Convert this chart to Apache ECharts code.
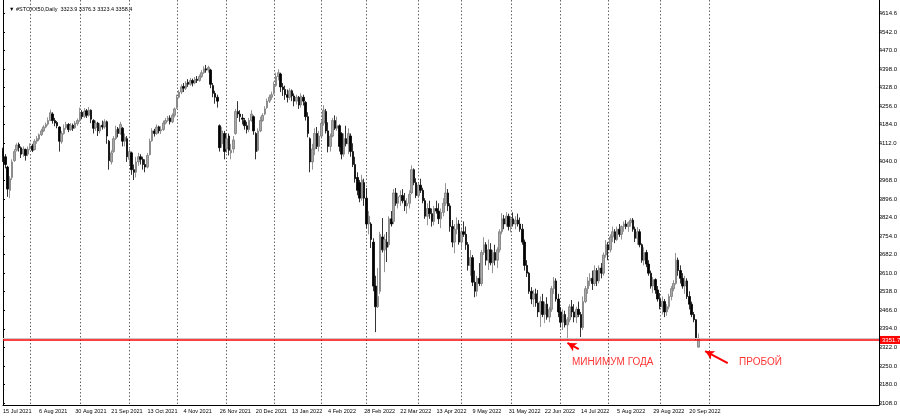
<!DOCTYPE html>
<html>
<head>
<meta charset="utf-8">
<title>#STOXX50 Daily</title>
<script src="https://cdn.jsdelivr.net/npm/echarts@6/dist/echarts.min.js"></script>
<style>
  html, body { margin: 0; background: #fff; }
  #chart { width: 900px; height: 418px; }
</style>
</head>
<body>
<div id="chart"></div>
<script>
const firstDay = '2021-07-15';
const closedDays = ['2021-12-24', '2021-12-31', '2022-04-15', '2022-04-18'];
const slotCount = 389; // bars + empty space on the right
const monthNames = ['Jan', 'Feb', 'Mar', 'Apr', 'May', 'Jun', 'Jul', 'Aug', 'Sep', 'Oct', 'Nov', 'Dec'];
const priceTicks = ['3108.0', '3180.0', '3250.0', '3322.0', '3394.0', '3466.0', '3538.0', '3610.0',
  '3682.0', '3754.0', '3824.0', '3896.0', '3968.0', '4040.0', '4112.0', '4184.0', '4256.0',
  '4328.0', '4398.0', '4470.0', '4542.0', '4614.6'];
const header = '▼ #STOXX50,Daily  3323.9 3376.3 3323.4 3358.4';
const yearLow = 3351.7;
const bidPrice = 3358.4;
const notes = [[252, 3266, 'МИНИМУМ ГОДА'], [326, 3266, 'ПРОБОЙ']];
const arrows = [[[255, 3316], [250, 3340]], [[321, 3262], [311, 3309]]];

// open, high, low, close
const bars = [
  [4085,4095,4040,4060],[4060,4070,4015,4030],[4020,4025,3905,3935],[3930,3985,3900,3975],
  [3980,4050,3970,4040],[4045,4090,4040,4080],[4085,4112,4080,4105],[4108,4115,4080,4095],
  [4095,4100,4055,4070],[4072,4100,4060,4090],[4088,4092,4045,4065],[4070,4100,4062,4090],
  [4092,4112,4085,4100],[4102,4110,4078,4085],[4088,4128,4085,4120],[4120,4140,4110,4130],
  [4128,4150,4120,4145],[4145,4168,4140,4160],[4160,4182,4155,4175],[4175,4192,4170,4185],
  [4186,4212,4180,4200],[4200,4242,4198,4230],[4225,4232,4188,4200],[4200,4210,4178,4190],
  [4192,4198,4170,4180],[4175,4178,4080,4120],[4118,4160,4110,4150],[4150,4185,4145,4170],
  [4172,4195,4165,4185],[4185,4190,4155,4165],[4165,4190,4160,4180],[4182,4188,4160,4170],
  [4172,4198,4168,4190],[4188,4208,4180,4200],[4200,4250,4195,4230],[4232,4240,4205,4215],
  [4215,4248,4210,4235],[4238,4245,4210,4220],[4220,4252,4215,4240],[4240,4243,4190,4205],
  [4200,4205,4150,4170],[4172,4200,4160,4190],[4190,4195,4140,4160],[4160,4190,4150,4180],
  [4182,4200,4165,4175],[4175,4205,4168,4195],[4195,4200,4110,4140],[4120,4125,4010,4045],
  [4040,4085,4030,4075],[4080,4140,4075,4130],[4130,4180,4125,4165],[4168,4175,4135,4150],
  [4150,4195,4145,4185],[4170,4175,4100,4120],[4120,4150,4100,4135],[4130,4140,4040,4060],
  [4050,4090,4030,4080],[4075,4080,3990,4010],[4010,4030,3970,4000],[4000,4060,3980,4040],
  [4040,4075,4025,4060],[4060,4070,4030,4050],[4050,4060,4010,4030],[4030,4050,4000,4020],
  [4020,4075,4015,4065],[4068,4130,4065,4120],[4122,4170,4118,4160],[4160,4168,4138,4150],
  [4150,4185,4145,4175],[4176,4180,4150,4160],[4160,4178,4148,4165],[4165,4200,4160,4190],
  [4190,4210,4185,4200],[4200,4218,4195,4210],[4210,4220,4185,4195],[4195,4228,4190,4220],
  [4220,4250,4212,4245],[4250,4300,4245,4290],[4290,4318,4285,4310],[4310,4340,4302,4330],
  [4332,4345,4310,4325],[4325,4352,4318,4345],[4348,4360,4330,4340],[4340,4365,4335,4355],
  [4355,4362,4332,4345],[4345,4368,4340,4360],[4360,4372,4345,4355],[4355,4378,4350,4370],
  [4370,4395,4365,4385],[4385,4410,4380,4400],[4400,4415,4385,4395],[4395,4412,4385,4405],
  [4395,4400,4325,4340],[4335,4345,4290,4305],[4305,4315,4265,4290],[4290,4300,4250,4275],
  [4180,4185,4080,4095],[4110,4175,4095,4160],[4150,4160,4050,4080],[4090,4150,4075,4130],
  [4140,4150,4065,4085],[4075,4110,4050,4085],[4090,4140,4075,4125],[4150,4245,4145,4235],
  [4235,4275,4210,4225],[4225,4240,4195,4215],[4210,4225,4185,4205],[4200,4210,4165,4180],
  [4180,4195,4150,4165],[4165,4210,4155,4200],[4200,4240,4195,4225],[4215,4220,4145,4160],
  [4150,4155,4050,4080],[4085,4170,4080,4160],[4160,4215,4155,4200],[4200,4228,4195,4220],
  [4225,4255,4220,4245],[4250,4285,4245,4275],[4275,4300,4268,4290],[4290,4312,4280,4300],
  [4305,4350,4300,4335],[4335,4385,4330,4370],[4370,4398,4355,4385],[4380,4385,4310,4330],
  [4330,4345,4295,4320],[4320,4335,4280,4300],[4300,4320,4270,4290],[4290,4325,4280,4315],
  [4315,4320,4275,4295],[4295,4305,4255,4275],[4275,4300,4262,4290],[4290,4295,4245,4260],
  [4260,4305,4250,4295],[4290,4300,4258,4275],[4270,4275,4200,4215],[4215,4232,4135,4150],
  [4130,4135,4000,4040],[4040,4110,4010,4090],[4090,4170,4066,4150],[4150,4175,4090,4100],
  [4100,4160,4080,4140],[4140,4200,4130,4190],[4190,4259,4180,4240],[4235,4245,4150,4160],
  [4160,4193,4077,4100],[4100,4150,4080,4140],[4140,4210,4135,4200],[4200,4220,4163,4170],
  [4170,4215,4160,4180],[4180,4185,4080,4100],[4150,4155,4050,4070],[4070,4150,4060,4130],
  [4130,4180,4100,4110],[4110,4170,4070,4150],[4140,4150,4060,4080],[4080,4112,4020,4030],
  [4030,4060,3960,3975],[3980,4000,3911,3930],[3960,3970,3884,3900],[3900,3990,3890,3970],
  [3960,3975,3870,3900],[3900,3939,3784,3800],[3800,3850,3760,3830],[3800,3807,3707,3740],
  [3730,3745,3540,3560],[3560,3600,3382,3480],[3480,3630,3475,3520],[3540,3770,3530,3760],
  [3750,3823,3690,3700],[3700,3760,3614,3740],[3730,3769,3653,3710],[3720,3830,3710,3820],
  [3820,3850,3790,3800],[3810,3935,3800,3920],[3920,3939,3870,3880],[3880,3920,3860,3905],
  [3905,3930,3870,3910],[3910,3935,3880,3890],[3890,3920,3850,3870],[3870,3900,3840,3880],
  [3880,3930,3860,3915],[3920,4027,3915,4010],[4010,4015,3950,3960],[3960,3977,3900,3910],
  [3910,3960,3900,3950],[3950,3975,3920,3930],[3930,3940,3880,3890],[3890,3900,3820,3830],
  [3830,3880,3795,3860],[3860,3890,3820,3840],[3840,3860,3790,3810],[3810,3870,3795,3860],
  [3860,3890,3840,3850],[3850,3880,3800,3820],[3820,3860,3784,3845],[3845,3900,3830,3880],
  [3880,3958,3870,3920],[3920,3935,3850,3870],[3870,3880,3770,3790],[3790,3815,3710,3730],
  [3730,3800,3687,3780],[3780,3826,3760,3800],[3800,3815,3720,3730],[3730,3780,3700,3770],
  [3770,3810,3750,3760],[3760,3790,3700,3720],[3720,3730,3620,3640],[3640,3699,3600,3670],
  [3670,3680,3560,3575],[3575,3620,3517,3540],[3540,3600,3520,3590],[3590,3649,3560,3570],
  [3570,3700,3560,3690],[3690,3749,3680,3720],[3720,3730,3640,3660],[3660,3740,3622,3700],
  [3700,3726,3640,3650],[3650,3700,3610,3690],[3690,3720,3640,3660],[3660,3710,3630,3700],
  [3700,3780,3690,3770],[3770,3842,3760,3820],[3820,3835,3780,3800],[3800,3846,3790,3830],
  [3830,3840,3775,3790],[3790,3830,3768,3820],[3820,3845,3790,3800],[3800,3830,3780,3815],
  [3815,3840,3790,3800],[3800,3825,3770,3780],[3780,3800,3720,3730],[3730,3740,3620,3640],
  [3640,3660,3595,3610],[3610,3615,3530,3540],[3540,3556,3490,3510],[3510,3545,3479,3530],
  [3530,3550,3480,3495],[3495,3545,3440,3460],[3460,3520,3402,3500],[3500,3530,3440,3450],
  [3450,3500,3417,3490],[3490,3517,3430,3440],[3440,3480,3420,3470],[3470,3560,3460,3550],
  [3550,3595,3530,3580],[3580,3590,3500,3510],[3510,3530,3440,3460],[3460,3479,3400,3420],
  [3420,3470,3390,3450],[3450,3465,3400,3410],[3410,3440,3351.7,3430],[3430,3490,3420,3480],
  [3480,3506,3440,3460],[3460,3490,3420,3440],[3440,3480,3417,3470],[3470,3500,3440,3450],
  [3450,3460,3363,3400],[3400,3520,3390,3500],[3500,3560,3494,3550],[3550,3595,3530,3580],
  [3580,3610,3560,3590],[3590,3620,3545,3570],[3570,3640,3560,3620],[3620,3630,3560,3580],
  [3580,3640,3570,3630],[3630,3649,3590,3610],[3610,3690,3600,3680],[3680,3738,3670,3720],
  [3720,3730,3660,3700],[3700,3760,3690,3750],[3750,3790,3730,3770],[3770,3780,3726,3740],
  [3740,3790,3735,3780],[3780,3800,3750,3760],[3760,3795,3740,3790],[3790,3810,3770,3800],
  [3800,3815,3780,3790],[3790,3810,3770,3805],[3805,3823,3790,3815],[3815,3823,3770,3780],
  [3780,3790,3730,3745],[3745,3788,3720,3770],[3770,3780,3710,3720],[3720,3725,3650,3660],
  [3660,3710,3640,3690],[3690,3700,3633,3645],[3645,3660,3600,3610],[3610,3620,3550,3560],
  [3560,3595,3533,3585],[3585,3590,3530,3545],[3545,3560,3500,3510],[3510,3533,3470,3480],
  [3480,3520,3450,3500],[3500,3510,3440,3460],[3460,3490,3445,3480],[3480,3530,3470,3520],
  [3520,3560,3505,3550],[3550,3583,3540,3570],[3570,3688,3565,3660],[3660,3670,3600,3620],
  [3620,3640,3570,3590],[3590,3610,3550,3560],[3560,3600,3530,3580],[3580,3590,3510,3520],
  [3520,3540,3470,3490],[3490,3500,3440,3450],[3450,3460,3420,3430],[3430,3432,3351,3360],
  [3323.9,3376.3,3323.4,3358.4]
];

// weekdays from the first bar, exchange holidays left out
function tradingDays() {
  const out = [];
  const d = new Date(firstDay + 'T00:00:00Z');
  while (out.length < slotCount) {
    const key = d.toISOString().slice(0, 10);
    const wd = d.getUTCDay();
    if (wd !== 0 && wd !== 6 && closedDays.indexOf(key) < 0) out.push(key);
    d.setUTCDate(d.getUTCDate() + 1);
  }
  return out;
}

const days = tradingDays();
const monthStarts = {};
for (let i = 1; i < days.length; i++) {
  if (days[i].slice(5, 7) !== days[i - 1].slice(5, 7) && i < bars.length + 6) monthStarts[i] = true;
}

function dayLabel(key) {
  const p = key.split('-');
  return parseInt(p[2], 10) + ' ' + monthNames[parseInt(p[1], 10) - 1] + ' ' + p[0];
}

const chart = echarts.init(document.getElementById('chart'), null, { renderer: 'canvas' });

const option = {
  animation: false,
  backgroundColor: '#fff',
  textStyle: { fontFamily: 'Liberation Sans, Arial, sans-serif' },
  title: {
    text: header,
    left: 4,
    top: 1,
    textStyle: { fontSize: 5.5, fontWeight: 'normal', color: '#000' }
  },
  grid: [
    { left: 3, right: 21, top: 0, bottom: 13 },
    { left: 3, right: 21, top: 0, bottom: 15 }
  ],
  xAxis: [
    {
      type: 'category',
      gridIndex: 0,
      data: days,
      boundaryGap: false,
      axisLine: { lineStyle: { color: '#000', width: 1 } },
      axisTick: { show: false },
      axisLabel: {
        interval: (i) => i % 16 === 0 && i < bars.length,
        formatter: dayLabel,
        align: 'left',
        fontSize: 5.5,
        color: '#000',
        margin: 3
      },
      splitLine: {
        show: true,
        interval: (i) => !!monthStarts[i],
        lineStyle: { color: '#666', width: 1, type: [1.5, 2] }
      }
    },
    { type: 'value', gridIndex: 1, show: false, min: 0, max: 1 }
  ],
  yAxis: [
    {
      type: 'value',
      gridIndex: 0,
      position: 'right',
      min: 3100.27,
      max: 4665.97,
      axisLine: { show: true, lineStyle: { color: '#000', width: 1 } },
      axisTick: { show: false },
      axisLabel: { show: false },
      splitLine: { show: false }
    },
    {
      type: 'value',
      gridIndex: 1,
      position: 'right',
      min: 0,
      max: 21.717,
      interval: 1,
      axisLine: { show: false },
      axisTick: { show: true, length: 2, lineStyle: { color: '#000' } },
      axisLabel: {
        fontSize: 6,
        color: '#000',
        margin: 3,
        showMaxLabel: false,
        formatter: (v) => (Number.isInteger(v) && priceTicks[v]) ? priceTicks[v] : ''
      },
      splitLine: { show: false }
    },
    {
      type: 'value',
      gridIndex: 0,
      position: 'left',
      min: 0,
      max: 1,
      axisLine: { show: true, onZero: false, lineStyle: { color: '#000', width: 1 } },
      axisTick: { show: false },
      axisLabel: { show: false },
      splitLine: { show: false }
    }
  ],
  series: [
    {
      name: '#STOXX50',
      type: 'candlestick',
      xAxisIndex: 0,
      yAxisIndex: 0,
      barWidth: 2,
      barMinWidth: 2,
      data: bars.map(b => [b[0], b[3], b[2], b[1]]),
      itemStyle: {
        color: '#a8a8a8',
        borderColor: '#7a7a7a',
        color0: '#000',
        borderColor0: '#000',
        borderWidth: 0.8
      },
      markLine: {
        silent: true,
        symbol: 'none',
        data: [
          {
            yAxis: bidPrice,
            lineStyle: { color: '#c9c9c9', width: 1, type: 'solid' },
            label: { show: false }
          },
          {
            yAxis: yearLow,
            lineStyle: { color: '#ff0000', width: 1.5, type: 'solid' },
            label: {
              show: true,
              position: 'end',
              formatter: yearLow.toFixed(1),
              distance: 1,
              color: '#fff',
              backgroundColor: '#ff0000',
              fontSize: 6,
              padding: [1, 2]
            }
          }
        ]
      }
    },
    {
      type: 'line',
      xAxisIndex: 0,
      yAxisIndex: 0,
      data: [],
      markLine: {
        silent: true,
        symbol: ['none', 'arrow'],
        symbolSize: [7, 9],
        lineStyle: { color: '#ff0000', width: 2, type: 'solid' },
        label: { show: false },
        data: arrows.map(a => [{ coord: a[0] }, { coord: a[1] }])
      }
    },
    {
      type: 'scatter',
      xAxisIndex: 0,
      yAxisIndex: 0,
      symbolSize: 0,
      silent: true,
      data: notes,
      label: {
        show: true,
        position: 'right',
        distance: 0,
        formatter: (p) => p.data[2],
        color: '#ff0000',
        fontSize: 10
      }
    }
  ]
};

chart.setOption(option);
</script>
</body>
</html>
